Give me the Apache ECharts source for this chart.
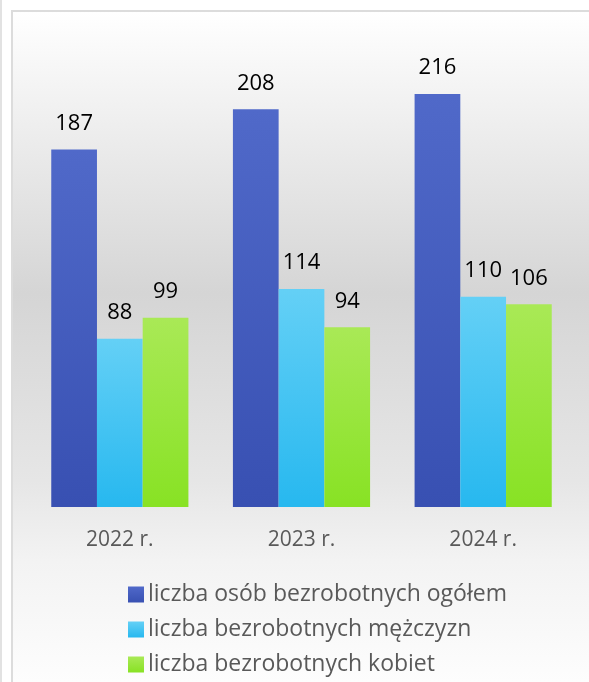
<!DOCTYPE html>
<html>
<head>
<meta charset="utf-8">
<script src="https://cdn.jsdelivr.net/npm/echarts@6/dist/echarts.min.js"></script>
<style>
    html, body { margin: 0; padding: 0; background: #ffffff; }
    #edge {
        position: absolute; left: 0; top: 0; width: 2px; height: 682px;
        background: #e2e2e2;
    }
    #frame {
        position: absolute; left: 11px; top: 10px;
        width: 576px; height: 670px;
        border-left: 2px solid #dcdcdc; border-top: 2px solid #dcdcdc;
        background: linear-gradient(to bottom, #ffffff 0%, #d5d5d5 42%, #e6e6e6 70%, #f3f3f3 82%, #fdfdfd 100%);
    }
    #main { width: 576px; height: 670px; }
</style>
</head>
<body>
<div id="edge"></div>
<div id="frame"><div id="main"></div></div>
<script>
var years = ['2022 r.', '2023 r.', '2024 r.'];
var seriesNames = ['liczba osób bezrobotnych ogółem', 'liczba bezrobotnych mężczyzn', 'liczba bezrobotnych kobiet'];
var totalValues = [187, 208, 216];
var menValues = [88, 114, 110];
var womenValues = [99, 94, 106];

var myChart = echarts.init(document.getElementById('main'));

function grad(top, bottom) {
    return new echarts.graphic.LinearGradient(0, 0, 0, 1, [
        {offset: 0, color: top},
        {offset: 1, color: bottom}
    ]);
}

var labelStyle = {
    show: true,
    position: 'top',
    distance: 15,
    color: '#000000',
    fontSize: 22,
    fontFamily: 'Open Sans'
};

var option = {
    backgroundColor: 'transparent',
    animation: false,
    grid: {
        left: 16,
        right: 15,
        top: 17,
        bottom: 175
    },
    legend: {
        orient: 'vertical',
        left: 110,
        top: 566,
        height: 110,
        itemWidth: 16,
        itemHeight: 16,
        itemGap: 12,
        icon: 'rect',
        textStyle: {
            color: '#595959',
            fontSize: 23,
            fontFamily: 'Open Sans',
            padding: [0, 0, 0, -1]
        },
        data: seriesNames
    },
    xAxis: {
        type: 'category',
        data: years,
        axisLine: {show: false},
        axisTick: {show: false},
        axisLabel: {
            margin: 23,
            color: '#595959',
            fontSize: 21,
            fontFamily: 'Open Sans'
        }
    },
    yAxis: {
        type: 'value',
        min: 0,
        max: 250,
        show: false,
        splitLine: {show: false}
    },
    series: [
        {
            name: seriesNames[0],
            type: 'bar',
            data: totalValues,
            barGap: '0%',
            barCategoryGap: '24.5%',
            itemStyle: {color: grad('#5069c9', '#3850b2')},
            label: labelStyle
        },
        {
            name: seriesNames[1],
            type: 'bar',
            data: menValues,
            itemStyle: {color: grad('#64d0f6', '#27b8ef')},
            label: labelStyle
        },
        {
            name: seriesNames[2],
            type: 'bar',
            data: womenValues,
            itemStyle: {color: grad('#a9e956', '#88e224')},
            label: labelStyle
        }
    ]
};

myChart.setOption(option);
window.addEventListener('resize', function () {
    myChart.resize();
});
</script>
</body>
</html>
